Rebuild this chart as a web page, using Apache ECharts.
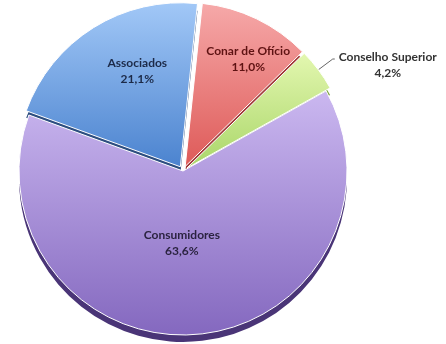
<!DOCTYPE html>
<html><head><meta charset="utf-8">
<script src="https://cdn.jsdelivr.net/npm/echarts@6/dist/echarts.min.js"></script>
<style>html,body{margin:0;padding:0;background:#fff}#c{width:446px;height:344px}</style>
</head><body><div id="c"></div>
<script>
const categories = ['Conar de Ofício', 'Conselho Superior', 'Consumidores', 'Associados'];
const values = [11.0, 4.2, 63.6, 21.1];

const topColors = [['#f6a9a9', '#de5a58'], ['#e3f7b0', '#a9d668'], ['#cbb8f0', '#8468bf'], ['#a2c8f7', '#4b83cf']];
const sideColors = ['#a33b3b', '#7ea33f', '#4a3577', '#2d4e80'];
const labelColors = ['#5e1212', '#333333', '#2b2340', '#1c2a48'];
const labelShift = [[26, -31], [0, 6], [-8, -13], [2, -24]];
const explode = [true, true, false, true];

const fmt = v => v.toFixed(1).replace('.', ',') + '%';

const topData = categories.map((name, i) => ({
  name, value: values[i], selected: explode[i],
  itemStyle: { color: new echarts.graphic.LinearGradient(0, 0, 0, 1, [{offset: 0, color: topColors[i][0]}, {offset: 1, color: topColors[i][1]}]) },
  label: i === 1 ? {
    position: 'outside', color: labelColors[i],
    formatter: p => '{c|' + p.name + '}\n{c|' + fmt(p.value) + '}',
    rich: { c: { width: 96, align: 'center', fontFamily: 'Lato', fontWeight: 'bold', fontSize: 12, lineHeight: 16, color: labelColors[i] } }
  } : { position: 'inside', color: labelColors[i] },
  labelLine: i === 1 ? { show: true, length: 18, length2: 2, lineStyle: { color: '#666', width: 1 } } : { show: false }
}));
const sideData = categories.map((name, i) => ({
  name, value: values[i], selected: explode[i],
  itemStyle: { color: sideColors[i] }
}));

const chart = echarts.init(document.getElementById('c'), null, { renderer: 'canvas' });
chart.setOption({
  animation: false,
  series: [
    {
      type: 'pie', center: [183, 178], radius: 164, startAngle: 84, clockwise: true,
      selectedMode: 'multiple', selectedOffset: 5, silent: true,
      label: { show: false }, labelLine: { show: false },
      itemStyle: { borderWidth: 0 },
      data: sideData, z: 1
    },
    {
      type: 'pie', center: [183, 171], radius: 164, startAngle: 84, clockwise: true,
      selectedMode: 'multiple', selectedOffset: 5, silent: true,
      itemStyle: { borderColor: '#ffffff', borderWidth: 1 },
      label: {
        show: true, fontFamily: 'Lato', fontWeight: 'bold', fontSize: 12, lineHeight: 16, align: 'center',
        formatter: p => p.name + '\n' + fmt(p.value)
      },
      labelLayout: p => ({ dx: labelShift[p.dataIndex][0], dy: labelShift[p.dataIndex][1] }),
      emphasis: { disabled: true },
      data: topData, z: 2
    }
  ]
});
</script></body></html>
